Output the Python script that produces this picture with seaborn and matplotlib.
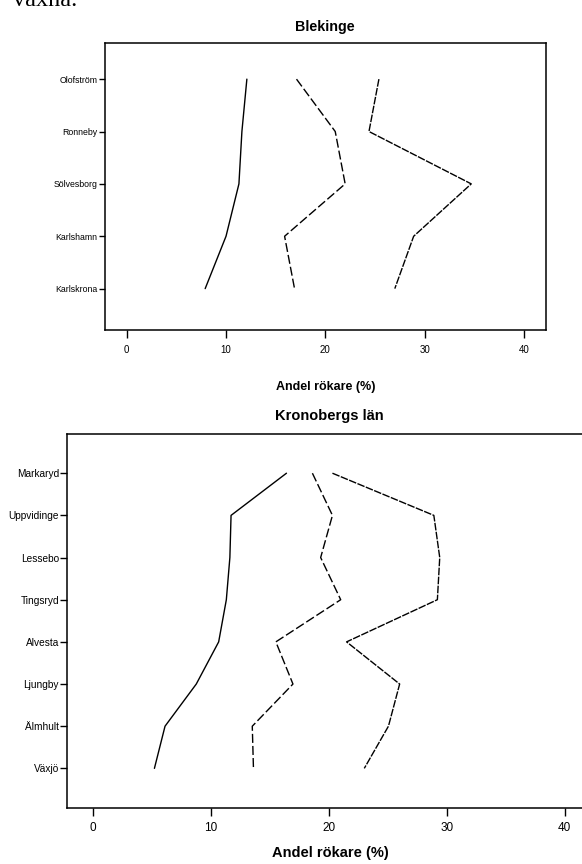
import numpy as np
import pandas as pd
import matplotlib
matplotlib.use("Agg")
import matplotlib.pyplot as plt
import seaborn as sns

# ---- data ----
blek_kommuner = ["Olofström", "Ronneby", "Sölvesborg", "Karlshamn", "Karlskrona"]
blek_s1 = [12.1, 11.6, 11.3, 10.0, 7.9]
blek_s2 = [17.1, 21.0, 22.0, 15.9, 16.9]
blek_s3 = [25.4, 24.4, 34.7, 28.9, 27.0]

kron_kommuner = ["Markaryd", "Uppvidinge", "Lessebo", "Tingsryd", "Alvesta",
                 "Ljungby", "Älmhult", "Växjö"]
kron_s1 = [16.4, 11.7, 11.6, 11.3, 10.65, 8.75, 6.1, 5.2]
kron_s2 = [18.6, 20.3, 19.3, 21.0, 15.5, 16.95, 13.5, 13.6]
kron_s3 = [20.3, 28.9, 29.4, 29.2, 21.5, 26.0, 25.05, 23.0]

x_ticks = [0, 10, 20, 30, 40]
series_names = ["s1", "s2", "s3"]
x_label = "Andel rökare (%)"

sns.set_theme(style="white")
plt.rcParams["font.family"] = ["Liberation Sans", "DejaVu Sans"]
plt.rcParams["axes.linewidth"] = 1.1
plt.rcParams["axes.edgecolor"] = "black"
plt.rcParams["text.color"] = "black"
plt.rcParams["axes.labelcolor"] = "black"
plt.rcParams["axes.titlecolor"] = "black"
plt.rcParams["xtick.color"] = "black"
plt.rcParams["ytick.color"] = "black"


def long_df(kommuner, s1, s2, s3):
    rows = []
    for name, vals in zip(series_names, [s1, s2, s3]):
        for i, (k, v) in enumerate(zip(kommuner, vals)):
            rows.append({"kommun": k, "pos": i, "andel": v, "serie": name})
    return pd.DataFrame(rows)


dashes = {"s1": "", "s2": (6.5, 2.2), "s3": (5.5, 1.0)}

fig = plt.figure(figsize=(5.82, 8.64), dpi=100)
fig.patch.set_facecolor("white")

W, H = 582.0, 864.0


def make_ax(left, top, right, bottom):
    return fig.add_axes([left / W, 1 - bottom / H, (right - left) / W, (bottom - top) / H])


# top panel
ax1 = make_ax(104.5, 43, 546, 330)
df1 = long_df(blek_kommuner, blek_s1, blek_s2, blek_s3)
sns.lineplot(data=df1, x="andel", y="pos", style="serie", dashes=dashes,
             sort=False, estimator=None, color="black", linewidth=1.0,
             legend=False, ax=ax1)
n1 = len(blek_kommuner)
ax1.set_ylim(n1 - 1 + 0.79, -0.69)
ax1.set_xlim(-2.24, 42.23)
ax1.set_yticks(range(n1))
ax1.set_yticklabels(blek_kommuner)
ax1.set_xticks(x_ticks)
ax1.set_xticklabels([str(t) for t in x_ticks])
ax1.tick_params(axis="y", left=True, length=4.5, width=1.0, pad=0.7, labelsize=6.3, colors="black")
ax1.tick_params(axis="x", bottom=True, length=6, width=1.0, pad=4.5, labelsize=7, colors="black")
ax1.set_ylabel("")
ax1.set_xlabel(x_label, fontsize=9, fontweight="bold", color="black")
ax1.xaxis.set_label_coords(0.5, -0.198)
ax1.xaxis.label.set_va("center")
ax1.set_title("Blekinge", fontsize=10.3, fontweight="bold", pad=8.5, color="black")
for sp in ax1.spines.values():
    sp.set_visible(True)
    sp.set_color("black")

# bottom panel
ax2 = make_ax(66.7, 434, 591, 808)
df2 = long_df(kron_kommuner, kron_s1, kron_s2, kron_s3)
sns.lineplot(data=df2, x="andel", y="pos", style="serie", dashes=dashes,
             sort=False, estimator=None, color="black", linewidth=1.0,
             legend=False, ax=ax2)
n2 = len(kron_kommuner)
ax2.set_ylim(n2 - 1 + 0.94, -0.93)
ax2.set_xlim(-2.24, 42.23)
ax2.set_yticks(range(n2))
ax2.set_yticklabels(kron_kommuner)
ax2.set_xticks(x_ticks)
ax2.set_xticklabels([str(t) for t in x_ticks])
ax2.tick_params(axis="y", left=True, length=4.8, width=1.0, pad=0.7, labelsize=7.3, colors="black")
ax2.tick_params(axis="x", bottom=True, length=6, width=1.0, pad=4.0, labelsize=8.5, colors="black")
ax2.set_ylabel("")
ax2.set_xlabel(x_label, fontsize=10.5, fontweight="bold", color="black")
ax2.xaxis.set_label_coords(0.503, -0.120)
ax2.xaxis.label.set_va("center")
ax2.set_title("Kronobergs län", fontsize=10.5, fontweight="bold", pad=10, color="black")
for sp in ax2.spines.values():
    sp.set_visible(True)
    sp.set_color("black")

# cut-off text from the surrounding document
fig.text(12.7 / W, 1 - 6.5 / H, "växna.", family=["Liberation Serif", "DejaVu Serif"],
         fontsize=17.5, va="baseline", ha="left", color="black")

fig.savefig("out.png", dpi=100, facecolor="white")
